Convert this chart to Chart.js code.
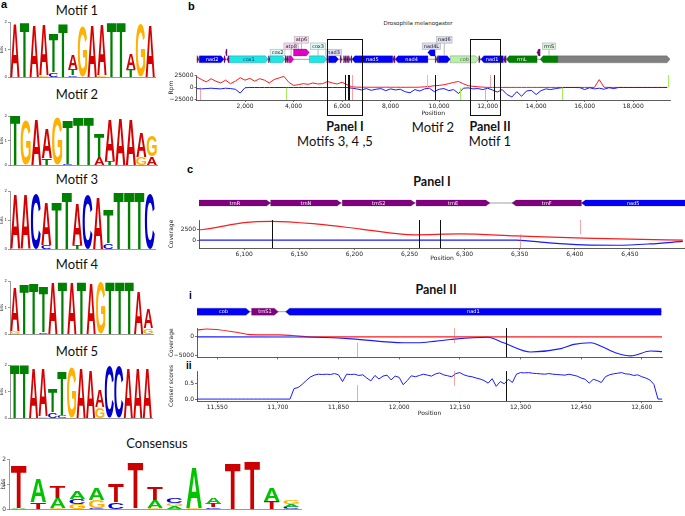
<!DOCTYPE html>
<html>
<head>
<meta charset="utf-8">
<title>Motifs in Drosophila melanogaster mtDNA</title>
<script src="https://cdn.jsdelivr.net/npm/chart.js@4.4.1/dist/chart.umd.min.js"></script>
<style>
  html, body { margin: 0; padding: 0; background: #fff; }
  body { position: relative; width: 685px; height: 516px; overflow: hidden; }
  canvas { position: absolute; }
  .t { position: absolute; white-space: nowrap; transform: translate(-50%, -50%); font-family: Lato, "Open Sans", sans-serif; font-size: 13px; color: #111; line-height: 1; }
  .b { font-weight: bold; font-size: 12.5px; }
  .tag { position: absolute; font-family: "Liberation Sans", Arial, sans-serif; font-weight: bold; font-size: 11px; line-height: 1; color: #000; }
  .small { font-family: "DejaVu Sans", sans-serif; font-size: 5.5px; color: #222; }
</style>
</head>
<body>
<div class="tag" style="left:1px;top:-1px">a</div>
<div class="tag" style="left:188px;top:1px">b</div>
<div class="tag" style="left:187px;top:164px">c</div>
<div class="tag" style="left:189px;top:291px;font-size:10px">i</div>
<div class="tag" style="left:186px;top:361px;font-size:10px">ii</div>

<div class="t" style="left:77px;top:10px">Motif 1</div>
<div class="t" style="left:77px;top:94px">Motif 2</div>
<div class="t" style="left:77px;top:179px">Motif 3</div>
<div class="t" style="left:77px;top:264px">Motif 4</div>
<div class="t" style="left:77px;top:351px">Motif 5</div>
<div class="t" style="left:157px;top:443px">Consensus</div>

<div class="t small" style="left:418px;top:24px">Drosophila melanogaster</div>
<div class="t b" style="left:345px;top:127px">Panel I</div>
<div class="t" style="left:335px;top:141px">Motifs 3, 4 ,5</div>
<div class="t" style="left:433px;top:127px">Motif 2</div>
<div class="t b" style="left:490px;top:127px">Panel II</div>
<div class="t" style="left:490px;top:141px">Motif 1</div>
<div class="t b" style="left:432px;top:182px">Panel I</div>
<div class="t b" style="left:436px;top:290px">Panel II</div>

<script>
// sequence logos: letters listed bottom -> top, heights in bits
const motif1Letters = ['A', 'T', 'A', 'GA', 'CT', 'T', 'CTA', 'G', 'A', 'GA', 'T', 'T', 'TA', 'G', 'A'];
const motif1Bits = [[1.94], [2.0], [1.92], [0.06, 1.82], [0.17, 1.41], [1.96], [0.06, 0.24, 0.53], [1.84], [1.92], [0.06, 1.86], [2.0], [2.0], [0.28, 0.54], [1.92], [1.92]];

const motif2Letters = ['T', 'G', 'A', 'TA', 'G', 'CT', 'T', 'T', 'AT', 'TA', 'A', 'A', 'GA', 'AG'];
const motif2Bits = [[2.0], [1.84], [1.86], [0.27, 1.22], [1.95], [0.04, 1.82], [1.97], [1.95], [0.34, 0.95], [0.16, 1.67], [1.9], [1.86], [0.34, 1.0], [0.34, 0.88]];

const motif3Letters = ['A', 'A', 'C', 'CA', 'T', 'T', 'TA', 'C', 'A', 'CT', 'T', 'T', 'T', 'C'];
const motif3Bits = [[1.89], [1.89], [1.91], [0.14, 1.49], [1.62], [2.0], [0.14, 1.43], [1.89], [1.82], [0.19, 1.17], [1.97], [1.97], [1.97], [1.91]];

const motif4Letters = ['GA', 'T', 'T', 'CT', 'A', 'T', 'A', 'T', 'A', 'G', 'T', 'T', 'T', 'A', 'GA'];
const motif4Bits = [[0.13, 1.64], [1.85], [1.94], [0.08, 1.71], [1.95], [1.97], [1.95], [1.97], [1.94], [1.95], [1.97], [1.97], [1.97], [1.6], [0.21, 0.75]];

const motif5Letters = ['T', 'T', 'A', 'GA', 'CT', 'CT', 'G', 'A', 'A', 'GA', 'C', 'C', 'A', 'A', 'A'];
const motif5Bits = [[2.0], [2.0], [1.88], [0.06, 1.81], [0.22, 0.88], [0.1, 1.65], [1.88], [1.88], [1.84], [0.41, 0.63], [1.96], [1.96], [1.88], [1.88], [1.88]];

const consensusLetters = ['AT', 'TA', 'GAT', 'GCA', 'CGA', 'CT', 'AT', 'GAT', 'AGC', 'GA', 'CTA', 'T', 'T', 'TA', 'CAG'];
const consensusBits = [[0.04, 1.72], [0.27, 0.94], [0.05, 0.4, 0.47], [0.2, 0.2, 0.3], [0.05, 0.33, 0.47], [0.27, 0.74], [0.03, 1.82], [0.05, 0.33, 0.5], [0.1, 0.12, 0.2], [0.05, 1.63], [0.07, 0.13, 0.27], [1.84], [1.95], [0.34, 0.54], [0.1, 0.1, 0.13]];
const logoBitTicks = [0, 1, 2];

// genome annotation
const geneNames = ['trnI', 'trnQ', 'nad2', 'trnW', 'trnC', 'trnY', 'cox1', 'trnL2', 'cox2', 'trnK', 'trnD', 'atp8', 'atp6', 'cox3', 'trnG', 'nad3', 'trnA', 'trnR', 'trnN', 'trnS2', 'trnE', 'trnF', 'nad5', 'trnH', 'nad4', 'nad4L', 'trnT', 'trnP', 'nad6', 'cob', 'trnS1', 'nad1', 'trnL1', 'rrnL', 'trnV', 'rrnS', 'control'];
const geneStarts = [10, 78, 145, 1134, 1195, 1262, 1353, 2961, 3030, 3650, 3720, 3790, 3995, 4652, 5370, 5440, 5920, 6058, 6124, 6189, 6256, 6343, 6406, 8090, 8186, 9530, 9835, 9900, 9965, 10460, 11635, 11719, 12650, 12765, 14030, 14166, 14896];
const geneEnds = [75, 140, 1134, 1200, 1260, 1350, 2961, 3030, 3650, 3720, 3790, 4010, 4652, 5370, 5440, 5855, 5990, 6124, 6188, 6255, 6323, 6406, 8090, 8186, 9540, 9835, 9900, 9965, 10460, 11631, 11701, 12648, 12765, 14040, 14166, 14896, 19517];
const geneStrands = [1, -1, 1, 1, -1, -1, 1, 1, 1, 1, 1, 1, 1, 1, 1, 1, 1, 1, 1, 1, 1, -1, -1, -1, -1, -1, 1, -1, 1, 1, 1, -1, -1, -1, -1, -1, 1];
const geneTypes = ['trn', 'trn', 'nad', 'trn', 'trn', 'trn', 'cox', 'trn', 'cox', 'trn', 'trn', 'atp', 'atp', 'cox', 'trn', 'nad', 'trn', 'trn', 'trn', 'trn', 'trn', 'trn', 'nad', 'trn', 'nad', 'nad', 'trn', 'trn', 'nad', 'cob', 'trn', 'nad', 'trn', 'rrn', 'trn', 'rrn', 'ctrl'];

// panel b: genome-wide coverage (Rpm), one value every 200 bp
const bPositions = Array.from({ length: 98 }, (_, i) => i * 200);
const bForward = [23500, 17400, 12100, 19000, 13600, 9800, 15900, 8300, 13600, 21200, 15900, 19700, 13600, 19000, 15900, 9800, 17400, 20500, 24200, 11400, 4500, 6100, 8300, 6800, 9800, 7600, 8300, 12900, 9800, 7600, 11400, 6100, 1500,
  800, 600, 700, 500, 600, 500, 700, 500, 600, 500, 400, 600, 500, 700, 1500,
  2300, 3800, 4500, 6000, 8300, 11000, 13000, 8000, 3800, 2500, 1500, 800, 300,
  200, 200, 200, 200, 200, 200, 200, 200, 200, 200, 200, 200, 200, 200, 200, 200, 200, 200, 200, 200, 200, 200,
  17000, 500,
  200, 200, 200, 200, 200, 200, 200, 200, 200, 200, 200, 200, 200];
const bReverse = [-2300, -3000, -2300, -1500, -2300, -3000, -1500, -2300, -3800, -12000, -500,
  0, 0, 0, 0, 0, 0, 0, 0, 0, 0, 0, 0, 0, 0, 0, 0, 0, 0, 0, 0, 0,
  -1500, -3000, -5300, -2300, -6100, -3800, -2300, -6800, -3000, -5300, -3800, -9100, -11400, -4500, -7600, -3000, -1500, -9000, -3800, -2300, -6800, -4500,
  -13000, -1500, -800, -3000, -2300, -4500, -1500, -5300, -9800, -4500, -15200, -20500, -9100, -18900, -7600, -6100, -15200, -6800, -3000, -4500, -2300, -800,
  0, 0, 0, -300, -4500, -500, -3000, -1500, -3800, -500, -2300, 0, 0, 0, 0, 0, 0, 0, 0, 0, 0, 0];
const bPositionTicks = [2000, 4000, 6000, 8000, 10000, 12000, 14000, 16000, 18000];
const bRpmTicks = [-25000, 0, 25000];
const bMarkPos = [150, 3700, 6125, 6259, 6278, 6400, 9520, 9850, 10850, 11880, 12100, 12265, 15060, 19420];
const bMarkFrom = [0, 0, 27000, 27000, 27000, 27000, 0, 27000, 0, 0, 27000, 27000, 0, 0];
const bMarkTo = [-27000, -27000, -27000, -27000, -27000, -27000, 27000, -27000, -27000, -27000, 0, -27000, -27000, 27000];
const bMarkKind = ['pink', 'green', 'black', 'black', 'black', 'pink', 'green', 'black', 'green', 'pink', 'pink', 'black', 'green', 'green'];
const bPanelRanges = [[5370, 6810], [11280, 12520]];

// panel c (Panel I): coverage around the tRNA cluster
const cFwdPos = [6059, 6070, 6100, 6125, 6167, 6206, 6254, 6296, 6347, 6408, 6450, 6498];
const cFwd = [2280, 2650, 3970, 4260, 3600, 2500, 1180, 1400, 955, 440, 200, 0];
const cRevPos = [6059, 6347, 6377, 6408, 6438, 6468, 6498];
const cRev = [0, 0, -660, -1100, -1180, -880, -300];
const cPositionTicks = [6100, 6150, 6200, 6250, 6300, 6350, 6400, 6450];
const cCoverageTicks = [0, 2500];
const cMarkPos = [6125, 6259, 6278, 6350, 6405];
const cMarkFrom = [4550, 4550, 4550, 1300, 4550];
const cMarkTo = [-1800, -1800, -1800, -1800, 1300];
const cMarkKind = ['black', 'black', 'black', 'pink', 'pink'];

// Panel II (i): coverage over cob / trnS1 / nad1
const iFwdPos = [11500, 11524, 11598, 11631, 11705, 11737, 11780, 12650];
const iFwd = [1840, 2100, 1230, 600, 530, 350, 0, 0];
const iRevPos = [11500, 11770, 11883, 12010, 12060, 12127, 12218, 12258, 12325, 12400, 12432, 12474, 12498, 12539, 12573, 12622, 12651];
const iRev = [0, -50, -530, -1580, -1500, -700, -100, -1580, -4040, -3150, -2020, -1580, -2450, -4390, -5090, -3780, -3950];
const iiPositionTicks = [11550, 11700, 11850, 12000, 12150, 12300, 12450, 12600];
const iCoverageTicks = [-5000, 0];
const iMarkPos = [11895, 12135, 12265];
const iMarkFrom = [-1580, 2370, 2370];
const iMarkTo = [-5500, -1660, -5500];
const iMarkKind = ['pink', 'pink', 'black'];

// Panel II (ii): conservation score, one value every 10 bp from 11500
const consScores = [0, 0, 0, 0, 0, 0, 0, 0, 0, 0, 0, 0, 0, 0, 0, 0, 0, 0, 0, 0, 0, 0, 0,
  0, 0.33, 0.36, 0.46, 0.58, 0.69, 0.75, 0.78,
  0.77, 0.78, 0.77, 0.80, 0.76, 0.55, 0.78, 0.77, 0.78, 0.74,
  0.76, 0.66, 0.57, 0.74, 0.63, 0.72, 0.75, 0.60, 0.72, 0.68,
  0.45, 0.58, 0.73, 0.70, 0.74, 0.78, 0.75, 0.72, 0.79, 0.82,
  0.76, 0.73, 0.70, 0.80, 0.83, 0.76, 0.72, 0.70, 0.66, 0.63,
  0.58, 0.50, 0.64, 0.40, 0.55, 0.48, 0.62, 0.52, 0.78, 0.83,
  0.82, 0.83, 0.81, 0.80, 0.79, 0.78, 0.80, 0.78, 0.77, 0.76,
  0.75, 0.78, 0.75, 0.72, 0.66, 0.62, 0.50, 0.62, 0.58, 0.52,
  0.70, 0.76, 0.79, 0.81, 0.83, 0.79, 0.78, 0.74, 0.76, 0.70,
  0.66, 0.60, 0.46, 0, 0];
const consPositions = consScores.map((_, i) => 11500 + i * 10);
const iiScoreTicks = [0, 0.5];
const iiMarkPos = [11895, 12135, 12265];
const iiMarkFrom = [0.44, 0.88, 0.88];
const iiMarkTo = [-0.06, 0.42, -0.06];
const iiMarkKind = ['pink', 'pink', 'black'];

// ---------- styles ----------
Chart.defaults.font.family = '"DejaVu Sans"';
const TICK = { family: '"DejaVu Sans"', size: 6 };
const LOGO_COLORS = { A: '#d60000', C: '#0000cc', G: '#ffb000', T: '#008000' };
const CONS_COLORS = { A: '#00c400', C: '#0000d0', G: '#ffb000', T: '#cc0000' };
const GENE_FILL = { nad: '#0000ff', cox: '#1ee6e6', atp: '#e000c8', cob: '#b8f0a8', rrn: '#008000', trn: '#800080', ctrl: '#808080' };
const GENE_TEXT = { nad: '#fff', cox: '#103070', atp: '#fff', cob: '#556', rrn: '#fff', trn: '#fff', ctrl: '#fff' };
const GENE_TINT = { nad: '#dcdcf2', cox: '#dff8f8', atp: '#f6d6f0', cob: '#e4f8e0', rrn: '#d8f0d8', trn: '#ead8ea', ctrl: '#eee' };
const MARK_COLORS = { black: '#111', pink: 'rgba(240,90,90,0.55)', green: '#a8ee58' };
const LABEL_LEVELS = { cox2: 1, nad3: 1, atp8: 2, cox3: 2, nad4L: 2, rrnS: 2, atp6: 3, nad6: 3 };

function place(left, top, w, h) {
  const c = document.createElement('canvas');
  c.width = w; c.height = h;
  c.style.left = left + 'px'; c.style.top = top + 'px';
  c.style.width = w + 'px'; c.style.height = h + 'px';
  document.body.appendChild(c);
  return c;
}

const fixedTicks = values => scale => { scale.ticks = values.map(v => ({ value: v })); };

// stretch one letter into the box of a stacked bar
function drawGlyph(ctx, ch, x, yTop, w, h, color) {
  if (h < 0.2 || w <= 0) return;
  ctx.save();
  ctx.font = 'bold 100px "Liberation Sans"';
  const m = ctx.measureText(ch);
  const gw = m.actualBoundingBoxLeft + m.actualBoundingBoxRight;
  const gh = m.actualBoundingBoxAscent + m.actualBoundingBoxDescent;
  ctx.translate(x, yTop + h);
  ctx.scale(w / gw, h / gh);
  ctx.fillStyle = color;
  ctx.textAlign = 'left';
  ctx.textBaseline = 'alphabetic';
  ctx.fillText(ch, m.actualBoundingBoxLeft, -m.actualBoundingBoxDescent);
  ctx.restore();
}

const logoPlugin = {
  id: 'logo',
  afterDatasetsDraw(chart, args, opts) {
    const ctx = chart.ctx;
    chart.data.datasets.forEach((ds, di) => {
      chart.getDatasetMeta(di).data.forEach((bar, i) => {
        const ch = ds.letters[i];
        if (!ch) return;
        const p = bar.getProps(['x', 'y', 'base', 'width'], true);
        drawGlyph(ctx, ch, p.x - p.width / 2, Math.min(p.y, p.base), p.width, Math.abs(p.base - p.y), opts.colors[ch]);
      });
    });
  }
};

function logoChart(box, letters, bits, colors, o) {
  const canvas = place(box.left, box.top, box.w, box.h);
  const layers = Math.max(...letters.map(s => s.length));
  const datasets = [];
  for (let k = 0; k < layers; k++) {
    datasets.push({
      data: bits.map(b => b[k] || 0),
      letters: letters.map(s => s[k] || ''),
      backgroundColor: 'rgba(0,0,0,0)',
      borderWidth: 0,
      barPercentage: 1,
      categoryPercentage: o.cat
    });
  }
  const f = { family: '"DejaVu Sans"', size: o.tick };
  return new Chart(canvas, {
    type: 'bar',
    data: { labels: letters.map((_, i) => String(i + 1)), datasets },
    options: {
      responsive: false, animation: false, events: [],
      layout: { padding: { left: 0, top: box.plotTop - box.top, right: box.left + box.w - box.plotRight, bottom: 0 } },
      plugins: { legend: { display: false }, tooltip: { enabled: false }, logo: { colors } },
      scales: {
        x: {
          stacked: true,
          grid: { display: false },
          border: { display: true, color: '#555', width: 0.6 },
          ticks: { font: f, color: '#333', minRotation: 90, maxRotation: 90, autoSkip: false, padding: 1 },
          afterFit: s => { s.height = box.top + box.h - box.plotBottom; }
        },
        y: {
          stacked: true, min: 0, max: 2,
          afterBuildTicks: fixedTicks(logoBitTicks),
          grid: { display: true, drawOnChartArea: false, tickLength: 2, color: '#555', lineWidth: 0.6 },
          border: { display: true, color: '#555', width: 0.6 },
          ticks: { font: f, color: '#333', padding: 1 },
          title: { display: true, text: 'bits', font: f, color: '#333', padding: 0 },
          afterFit: s => { s.width = box.plotLeft - box.left; }
        }
      }
    },
    plugins: [logoPlugin]
  });
}

logoChart({ left: 0, top: 18, w: 165, h: 65, plotLeft: 10, plotRight: 155, plotTop: 22, plotBottom: 77 }, motif1Letters, motif1Bits, LOGO_COLORS, { cat: 0.96, tick: 4 });
logoChart({ left: 0, top: 112, w: 165, h: 59, plotLeft: 10, plotRight: 157, plotTop: 116, plotBottom: 165 }, motif2Letters, motif2Bits, LOGO_COLORS, { cat: 0.96, tick: 4 });
logoChart({ left: 0, top: 187, w: 165, h: 68, plotLeft: 10, plotRight: 155, plotTop: 191, plotBottom: 249 }, motif3Letters, motif3Bits, LOGO_COLORS, { cat: 0.96, tick: 4 });
logoChart({ left: 0, top: 277, w: 165, h: 63, plotLeft: 10, plotRight: 153, plotTop: 281, plotBottom: 334 }, motif4Letters, motif4Bits, LOGO_COLORS, { cat: 0.96, tick: 4 });
logoChart({ left: 0, top: 361, w: 165, h: 63, plotLeft: 10, plotRight: 152, plotTop: 365, plotBottom: 418 }, motif5Letters, motif5Bits, LOGO_COLORS, { cat: 0.96, tick: 4 });
logoChart({ left: 0, top: 454, w: 310, h: 62, plotLeft: 9, plotRight: 301, plotTop: 459, plotBottom: 509 }, consensusLetters, consensusBits, CONS_COLORS, { cat: 0.8, tick: 6 });

// ---------- genome tracks ----------
function geneRows() {
  const rows = [];
  let lastEnd = -Infinity;
  geneStarts.forEach((s, i) => {
    if (s < lastEnd) rows.push(1);
    else { rows.push(0); lastEnd = geneEnds[i]; }
  });
  return rows;
}

function arrowPath(ctx, a, b, y, h, strand, headMax) {
  const head = Math.min(headMax, (b - a) * 0.5);
  ctx.beginPath();
  if (strand > 0) {
    ctx.moveTo(a, y - h / 2); ctx.lineTo(b - head, y - h / 2); ctx.lineTo(b, y);
    ctx.lineTo(b - head, y + h / 2); ctx.lineTo(a, y + h / 2);
  } else {
    ctx.moveTo(b, y - h / 2); ctx.lineTo(a + head, y - h / 2); ctx.lineTo(a, y);
    ctx.lineTo(a + head, y + h / 2); ctx.lineTo(b, y + h / 2);
  }
  ctx.closePath();
}

const geneTrack = {
  id: 'geneTrack',
  afterDraw(chart, args, o) {
    if (!o.height) return;
    const { ctx, chartArea: ca, scales: { x } } = chart;
    const cy = ca.top - o.offset;
    const rows = geneRows();
    const recolor = o.recolor || {};
    ctx.save();
    ctx.beginPath();
    ctx.rect(ca.left, 0, ca.right - ca.left, chart.height);
    ctx.clip();
    // backbone
    ctx.strokeStyle = '#a0a0a0';
    ctx.lineWidth = 1;
    ctx.beginPath();
    ctx.moveTo(x.getPixelForValue(geneStarts[0]), cy);
    ctx.lineTo(x.getPixelForValue(geneEnds[geneEnds.length - 1]), cy);
    ctx.stroke();
    ctx.font = o.font + 'px "DejaVu Sans"';
    ctx.textAlign = 'center';
    ctx.textBaseline = 'middle';
    geneNames.forEach((name, i) => {
      if (geneEnds[i] < x.min || geneStarts[i] > x.max) return;
      const a = x.getPixelForValue(geneStarts[i]);
      const b = x.getPixelForValue(geneEnds[i]);
      const y = cy - rows[i] * o.rowGap;
      const type = recolor[name] || geneTypes[i];
      arrowPath(ctx, a, b, y, o.height, geneStrands[i], o.head);
      ctx.fillStyle = GENE_FILL[type];
      ctx.fill();
      ctx.strokeStyle = 'rgba(40,40,40,0.45)';
      ctx.lineWidth = 0.5;
      ctx.stroke();
      const va = Math.max(a, ca.left), vb = Math.min(b, ca.right);
      const tw = ctx.measureText(name).width;
      if (o.boxed && o.boxed[name]) {
        const ly = cy - o.labelBase - (o.boxed[name] - 1) * o.labelGap;
        const cx = (a + b) / 2;
        const bh = o.font + 1.5;
        ctx.strokeStyle = '#888';
        ctx.lineWidth = 0.6;
        ctx.beginPath();
        ctx.moveTo(cx, ly + bh / 2);
        ctx.lineTo(cx, y - o.height / 2);
        ctx.stroke();
        ctx.fillStyle = GENE_TINT[type];
        ctx.fillRect(cx - tw / 2 - 1.5, ly - bh / 2, tw + 3, bh);
        ctx.strokeStyle = '#b0b0b0';
        ctx.strokeRect(cx - tw / 2 - 1.5, ly - bh / 2, tw + 3, bh);
        ctx.fillStyle = '#222';
        ctx.fillText(name, cx, ly + 0.3);
      } else if (type !== 'ctrl' && tw + 4 < vb - va) {
        ctx.fillStyle = GENE_TEXT[type];
        ctx.fillText(name, (va + vb) / 2, y + 0.3);
      }
    });
    ctx.restore();
  }
};

const markers = {
  id: 'markers',
  afterDatasetsDraw(chart, args, o) {
    const { ctx, chartArea: ca, scales: { x, y } } = chart;
    ctx.save();
    ctx.beginPath();
    ctx.rect(ca.left, ca.top, ca.right - ca.left, ca.bottom - ca.top);
    ctx.clip();
    o.pos.forEach((p, i) => {
      const px = Math.round(x.getPixelForValue(p)) + 0.5;
      ctx.strokeStyle = MARK_COLORS[o.kind[i]];
      ctx.lineWidth = 1;
      ctx.beginPath();
      ctx.moveTo(px, y.getPixelForValue(o.from[i]));
      ctx.lineTo(px, y.getPixelForValue(o.to[i]));
      ctx.stroke();
    });
    ctx.restore();
  }
};

const panelBoxes = {
  id: 'panelBoxes',
  afterDraw(chart, args, o) {
    if (!o.ranges) return;
    const { ctx, scales: { x } } = chart;
    ctx.save();
    ctx.strokeStyle = '#111';
    ctx.lineWidth = 1;
    o.ranges.forEach(r => {
      const a = Math.round(x.getPixelForValue(r[0])) + 0.5;
      const b = Math.round(x.getPixelForValue(r[1])) + 0.5;
      ctx.strokeRect(a, o.top + 0.5, b - a, o.bottom - o.top);
    });
    ctx.restore();
  }
};

function series(xs, ys, color, width, smooth) {
  return {
    data: xs.map((v, i) => ({ x: v, y: ys[i] })),
    borderColor: color, borderWidth: width, pointRadius: 0, fill: false,
    tension: smooth ? 0.4 : 0,
    cubicInterpolationMode: smooth ? 'monotone' : 'default'
  };
}

const signed = v => (v < 0 ? '\u2212' + Math.abs(v) : String(v));

function xAxis(min, max, tickValues, height, labels) {
  return {
    type: 'linear', min, max,
    afterBuildTicks: fixedTicks(tickValues),
    grid: { display: true, drawOnChartArea: false, drawTicks: true, tickLength: 2, color: '#333', lineWidth: 0.7 },
    border: { display: true, color: '#333', width: 0.8 },
    ticks: {
      display: labels, autoSkip: false, maxRotation: 0, padding: 1,
      font: TICK, color: '#222',
      callback: v => v.toLocaleString('en-US')
    },
    title: { display: labels, text: 'Position', font: TICK, color: '#222', padding: { top: 0, bottom: 0 } },
    afterFit: s => { s.height = height; }
  };
}

function yAxis(min, max, tickValues, title, width, fmt) {
  return {
    type: 'linear', min, max,
    afterBuildTicks: fixedTicks(tickValues),
    grid: { display: true, drawOnChartArea: false, drawTicks: true, tickLength: 2, color: '#333', lineWidth: 0.7 },
    border: { display: true, color: '#333', width: 0.8 },
    ticks: { autoSkip: false, padding: 1, font: TICK, color: '#222', callback: fmt },
    title: { display: true, text: title, font: TICK, color: '#222', padding: { top: 0, bottom: 0 } },
    afterFit: s => { s.width = width; }
  };
}

function coverageChart(canvas, datasets, padding, scales, plugOpts) {
  return new Chart(canvas, {
    type: 'line',
    data: { datasets },
    options: {
      responsive: false, animation: false, events: [],
      layout: { padding },
      plugins: Object.assign({ legend: { display: false }, tooltip: { enabled: false } }, plugOpts),
      scales
    },
    plugins: [markers, geneTrack, panelBoxes]
  });
}

// panel b
coverageChart(place(168, 30, 517, 90),
  [series(bPositions, bReverse, '#1a1aff', 1, false), series(bPositions, bForward, '#ff1a1a', 1, false)],
  { left: 0, top: 45, right: 15, bottom: 3 },
  { x: xAxis(0, 19517, bPositionTicks, 17, true), y: yAxis(-27000, 27000, bRpmTicks, 'Rpm', 28.5, signed) },
  {
    markers: { pos: bMarkPos, from: bMarkFrom, to: bMarkTo, kind: bMarkKind },
    geneTrack: { offset: 15.7, height: 7, rowGap: 6.8, head: 3, font: 5, boxed: LABEL_LEVELS, labelBase: 6.8, labelGap: 6.3 },
    panelBoxes: { ranges: bPanelRanges, top: 9, bottom: 85 }
  });

// panel c
coverageChart(place(168, 190, 517, 80),
  [series(cRevPos, cRev, '#1a1aff', 1.2, true), series(cFwdPos, cFwd, '#ff1a1a', 1.2, true)],
  { left: 0, top: 30, right: 0, bottom: 8 },
  { x: xAxis(6059, 6500, cPositionTicks, 14, true), y: yAxis(-1800, 4550, cCoverageTicks, 'Coverage', 31, signed) },
  {
    markers: { pos: cMarkPos, from: cMarkFrom, to: cMarkTo, kind: cMarkKind },
    geneTrack: { offset: 17, height: 6, rowGap: 6, head: 4, font: 5 },
    panelBoxes: {}
  });

// Panel II, i
coverageChart(place(168, 300, 517, 62),
  [series(iRevPos, iRev, '#1a1aff', 1.1, true), series(iFwdPos, iFwd, '#ff1a1a', 1.1, true)],
  { left: 0, top: 28, right: 23, bottom: 1 },
  { x: xAxis(11500, 12650, iiPositionTicks, 3, false), y: yAxis(-5500, 2370, iCoverageTicks, 'Coverage', 29, signed) },
  {
    markers: { pos: iMarkPos, from: iMarkFrom, to: iMarkTo, kind: iMarkKind },
    geneTrack: { offset: 16.3, height: 7, rowGap: 7, head: 4, font: 5, recolor: { cob: 'nad' } },
    panelBoxes: {}
  });

// Panel II, ii
coverageChart(place(168, 365, 517, 52),
  [series(consPositions, consScores, '#1a1aff', 1, false)],
  { left: 0, top: 6, right: 23, bottom: 0 },
  { x: xAxis(11500, 12650, iiPositionTicks, 16, true), y: yAxis(-0.06, 0.88, iiScoreTicks, 'Conser scores', 29, v => v.toFixed(1)) },
  {
    markers: { pos: iiMarkPos, from: iiMarkFrom, to: iiMarkTo, kind: iiMarkKind },
    geneTrack: {},
    panelBoxes: {}
  });
</script>
</body>
</html>
